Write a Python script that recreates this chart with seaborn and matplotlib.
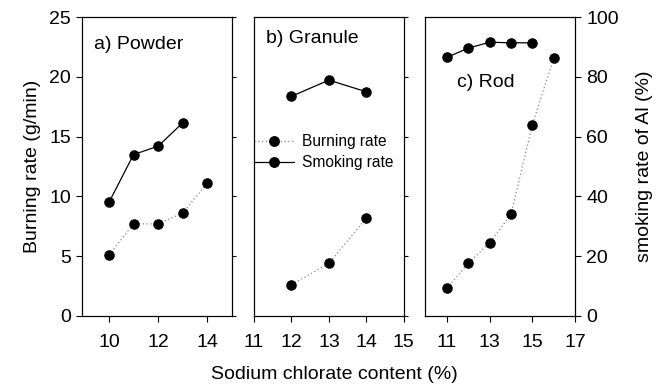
import pandas as pd
import matplotlib.pyplot as plt
import seaborn as sns
from matplotlib.lines import Line2D

# burning rate (g/min), left axis
powder_burn_x = [10, 11, 12, 13, 14]
powder_burn = [5.1, 7.7, 7.7, 8.6, 11.1]
granule_burn_x = [12, 13, 14]
granule_burn = [2.6, 4.4, 8.2]
rod_burn_x = [11, 12, 13, 14, 15, 16]
rod_burn = [2.3, 4.4, 6.1, 8.5, 16.0, 21.6]

# smoking rate of Al (%), right axis
powder_smoke_x = [10, 11, 12, 13]
powder_smoke = [38, 54, 56.8, 64.6]
granule_smoke_x = [12, 13, 14]
granule_smoke = [73.5, 78.9, 75.0]
rod_smoke_x = [11, 12, 13, 14, 15]
rod_smoke = [86.5, 89.6, 91.6, 91.4, 91.4]

panel_labels = ["a) Powder", "b) Granule", "c) Rod"]

sns.set_style("ticks")
plt.rcParams['font.family'] = ['Liberation Sans', 'DejaVu Sans']
plt.rcParams['text.color'] = 'black'
plt.rcParams['xtick.color'] = 'black'
plt.rcParams['ytick.color'] = 'black'
plt.rcParams['axes.labelcolor'] = 'black'
plt.rcParams['axes.edgecolor'] = 'black'

panels = [
    dict(bx=powder_burn_x, by=powder_burn, sx=powder_smoke_x, sy=powder_smoke,
         xlim=(8.9, 15), xticks=[10, 12, 14], left=0.122, label_pos=(0.08, 0.91, 'left')),
    dict(bx=granule_burn_x, by=granule_burn, sx=granule_smoke_x, sy=granule_smoke,
         xlim=(11, 15), xticks=[11, 12, 13, 14, 15], left=0.378, label_pos=(0.08, 0.93, 'left')),
    dict(bx=rod_burn_x, by=rod_burn, sx=rod_smoke_x, sy=rod_smoke,
         xlim=(10, 17), xticks=[11, 13, 15, 17], left=0.633, label_pos=(0.40, 0.78, 'center')),
]

ms = 6.8
fig = plt.figure(figsize=(6.72, 3.89), dpi=100)

for i, p in enumerate(panels):
    ax = fig.add_axes([p['left'], 0.188, 0.223, 0.768])
    ax2 = ax.twinx()
    burn_df = pd.DataFrame({'x': p['bx'], 'y': p['by']})
    smoke_df = pd.DataFrame({'x': p['sx'], 'y': p['sy']})
    sns.lineplot(data=burn_df, x='x', y='y', ax=ax, color='#888888', lw=0.9,
                 linestyle=(0, (1, 2)), marker='o', markersize=ms,
                 markerfacecolor='black', markeredgecolor='black')
    sns.lineplot(data=smoke_df, x='x', y='y', ax=ax2, color='black', lw=0.9,
                 marker='o', markersize=ms,
                 markerfacecolor='black', markeredgecolor='black')
    ax.set_xlim(*p['xlim'])
    ax.set_xticks(p['xticks'])
    ax.set_ylim(0, 25)
    ax2.set_ylim(0, 100)
    ax.set_xlabel('')
    ax.set_ylabel('')
    ax2.set_ylabel('')
    ax.tick_params(axis='x', direction='out', length=4, width=0.8, labelsize=14, pad=9)
    ax.tick_params(axis='y', direction='out', length=4, width=0.8, labelsize=14, pad=4)
    ax2.tick_params(axis='y', direction='out', length=4, width=0.8, labelsize=14, pad=4)
    for a in (ax, ax2):
        for s in a.spines.values():
            s.set_linewidth(0.8)
            s.set_visible(True)
    ax.set_yticks([0, 5, 10, 15, 20, 25])
    ax2.set_yticks([0, 20, 40, 60, 80, 100])
    if i == 0:
        ax.set_ylabel('Burning rate (g/min)', fontsize=14, labelpad=6)
    else:
        ax.tick_params(axis='y', length=0, labelleft=False)
    if i < 2:
        ax2.tick_params(axis='y', labelright=False, length=3)
    else:
        ax2.set_ylabel('smoking rate of Al (%)', fontsize=14, labelpad=12)

    lx, ly, ha = p['label_pos']
    ax.text(lx, ly, panel_labels[i], transform=ax.transAxes, fontsize=14, ha=ha, va='center')

    if i == 1:
        handles = [
            Line2D([], [], color='#888888', lw=0.9, linestyle=(0, (1, 2)), marker='o', markersize=ms,
                   markerfacecolor='black', markeredgecolor='black'),
            Line2D([], [], color='black', lw=0.9, marker='o', markersize=ms,
                   markerfacecolor='black', markeredgecolor='black'),
        ]
        ax.legend(handles, ['Burning rate', 'Smoking rate'], loc='center left',
                  bbox_to_anchor=(0.0, 0.548), frameon=False, fontsize=11.2,
                  borderaxespad=0, borderpad=0,
                  handlelength=2.6, handletextpad=0.5, labelspacing=0.4)

fig.text(0.497, 0.037, 'Sodium chlorate content (%)', ha='center', va='center', fontsize=14)

fig.savefig('out.png', dpi=100)
